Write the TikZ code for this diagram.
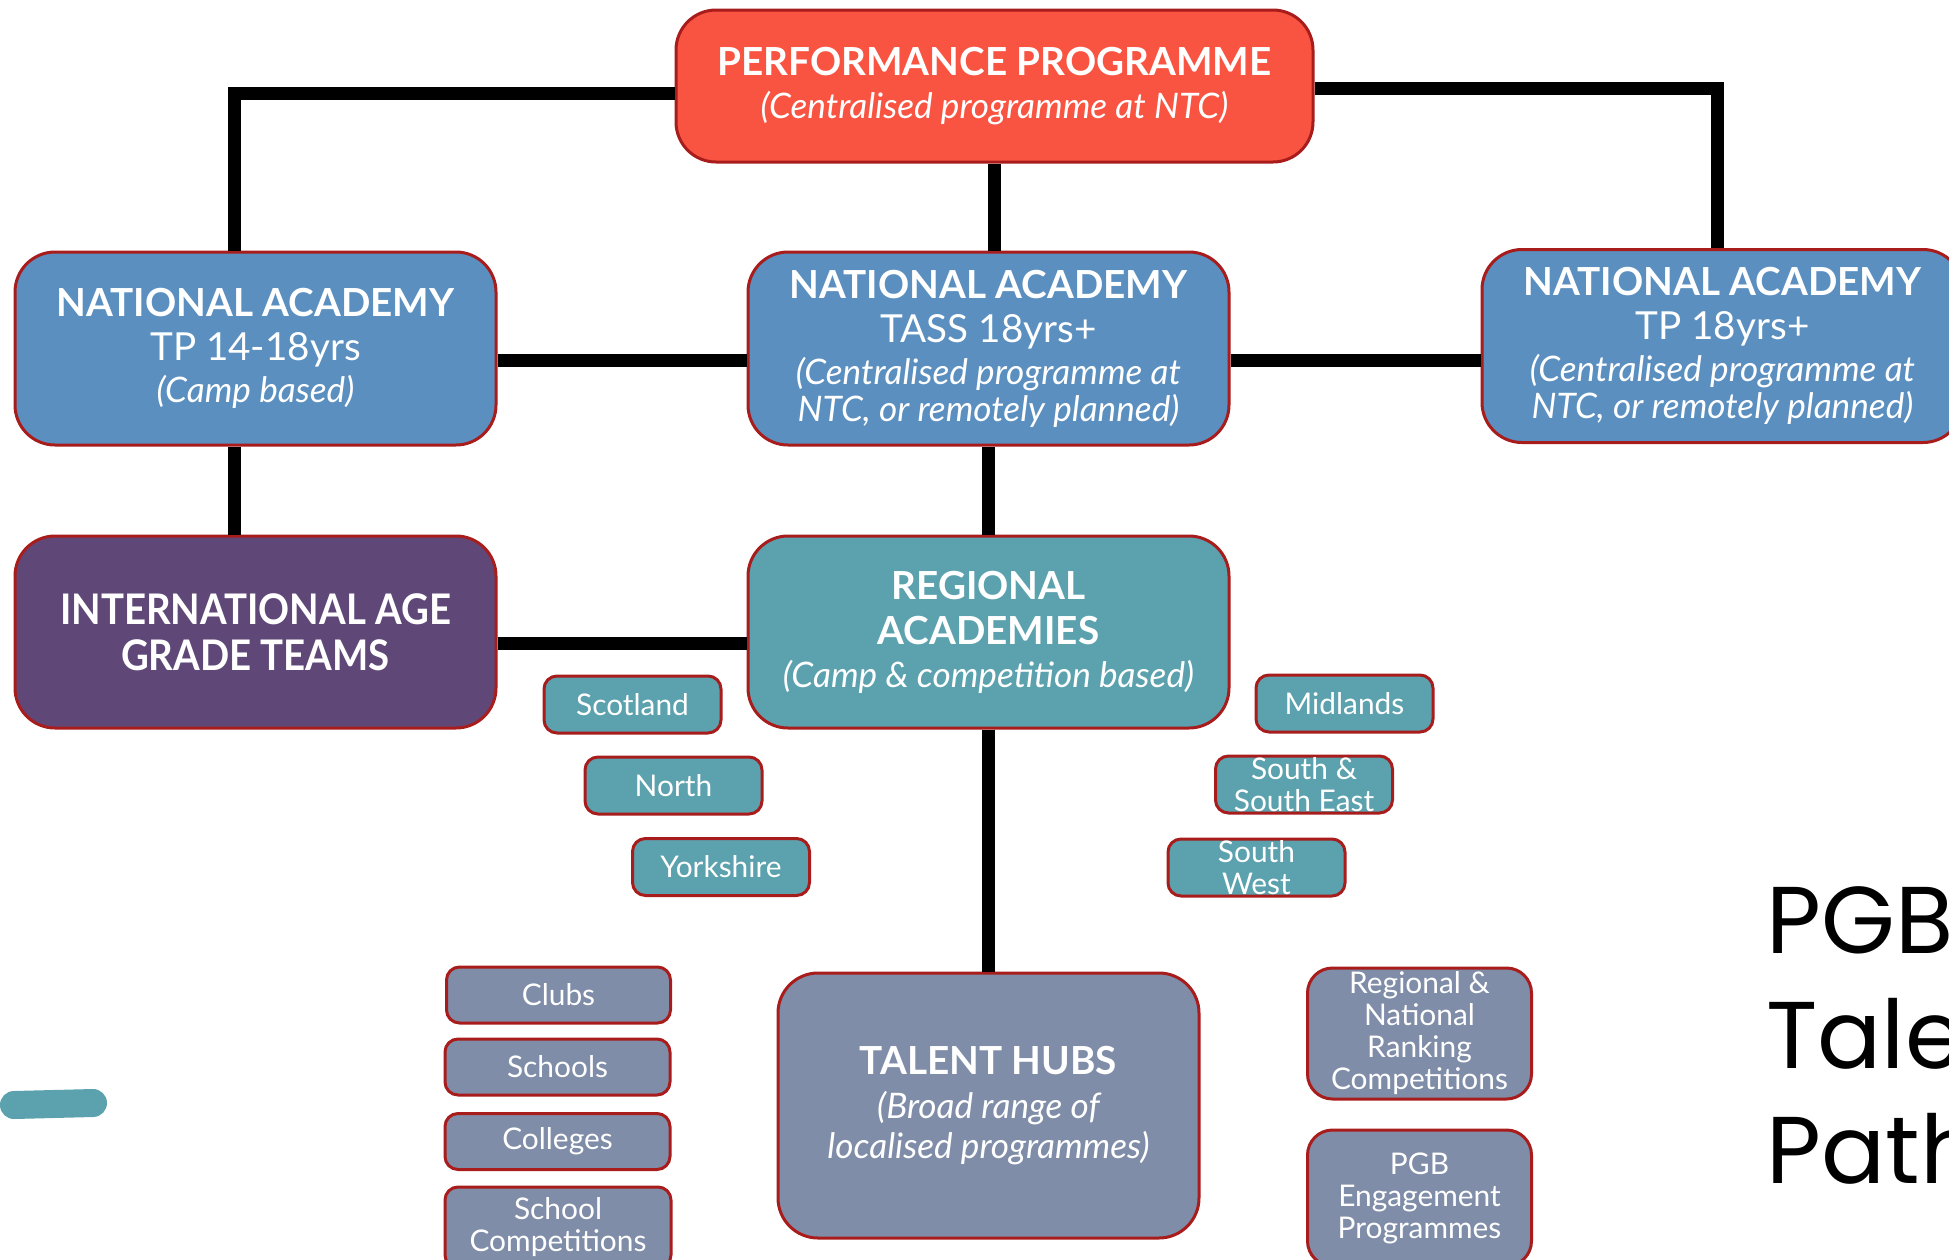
\documentclass[tikz,border=0pt]{standalone}
\usepackage{fontspec}
\setmainfont{Lato}
\newfontfamily\pathfont{Poppins}
\newfontfamily\condfont{Lato}[FakeStretch=0.91]
\usetikzlibrary{calc}
\definecolor{edgered}{HTML}{A81C1C}
\definecolor{perfred}{HTML}{F85441}
\definecolor{nablue}{HTML}{5A8FBF}
\definecolor{agepurple}{HTML}{5F4878}
\definecolor{regteal}{HTML}{5BA2AE}
\definecolor{hubgrey}{HTML}{7F8DA8}
\newcommand{\subtxt}[1]{{\itshape\fontsize{10}{12}\selectfont #1}}
\tikzset{
    box/.style       = {draw=edgered, line width=0.3mm, rounded corners=4mm, text=white, align=center, inner sep=0pt},
    redbox/.style    = {box, fill=perfred, minimum width=63.7mm, minimum height=15.2mm, font=\fontsize{11}{12}\selectfont},
    bluebox/.style   = {box, fill=nablue, minimum width=48.1mm, minimum height=19.3mm, font=\fontsize{11}{13}\selectfont},
    purplebox/.style = {box, fill=agepurple, minimum width=48.1mm, minimum height=19.2mm, font=\condfont\fontsize{12}{13}\selectfont\bfseries},
    tealbox/.style   = {box, fill=regteal, minimum width=48.1mm, minimum height=19.2mm, font=\fontsize{11}{13}\selectfont},
    hubbox/.style    = {box, fill=hubgrey, minimum width=42.1mm, minimum height=26.5mm, font=\fontsize{11}{12.4}\selectfont},
    region/.style    = {box, fill=regteal, rounded corners=1.3mm, minimum width=17.7mm, minimum height=5.7mm, font=\fontsize{8.5}{9}\selectfont},
    feeder/.style    = {box, fill=hubgrey, rounded corners=1.3mm, minimum width=22.4mm, minimum height=5.6mm, font=\fontsize{8.5}{9.1}\selectfont},
    link/.style      = {draw=black, line width=1.3mm},
}

\begin{document}
\begin{tikzpicture}[x=0.1mm, y=-0.1mm]
  \clip (0,0) rectangle (1949,1260);
  % main boxes
  \node [name=perf, redbox] at (994.5,86) {{\bfseries PERFORMANCE PROGRAMME}\\ \subtxt{(Centralised programme at NTC)}};
  \node [name=naL, bluebox] at (255.5,348.5) {{\bfseries NATIONAL ACADEMY}\\[-0.5pt] TP 14-18yrs\\[-1pt] \subtxt{(Camp based)}};
  \node [name=naC, bluebox] at (988.5,348.5) {{\bfseries NATIONAL ACADEMY}\\[-0.5pt] TASS 18yrs+\\[-1pt] \subtxt{(Centralised programme at}\\[-2.5pt] \subtxt{NTC, or remotely planned)}};
  \node [name=naR, bluebox] at (1722.5,346) {{\bfseries NATIONAL ACADEMY}\\[-0.5pt] TP 18yrs+\\[-1pt] \subtxt{(Centralised programme at}\\[-2.5pt] \subtxt{NTC, or remotely planned)}};
  \node [name=intl, purplebox] at (255.5,632) {INTERNATIONAL AGE\\ GRADE TEAMS};
  \node [name=regional, tealbox] at (988.5,632) {{\bfseries REGIONAL}\\ {\bfseries ACADEMIES}\\[-1pt] \subtxt{(Camp \& competition based)}};
  \node [name=talent, hubbox] at (988.5,1105.5) {{\bfseries TALENT HUBS}\\ \subtxt{(Broad range of}\\[-1pt] \subtxt{localised programmes)}};
  % regions
  \node [name=scotland, region] at (632.5,704.5) {Scotland};
  \node [name=north, region] at (673.5,785.5) {North};
  \node [name=yorkshire, region] at (721,867) {Yorkshire};
  \node [name=midlands, region] at (1344.5,703.5) {Midlands};
  \node [name=southeast, region] at (1304,784.5) {South \&\\ South East};
  \node [name=southwest, region] at (1256.5,867.5) {South\\ West};
  % feeders
  \node [name=clubs, feeder] at (558.5,995) {Clubs};
  \node [name=schools, feeder, minimum width=22.5mm] at (557.5,1067) {Schools};
  \node [name=colleges, feeder, minimum width=22.5mm] at (557.5,1141.5) {Colleges};
  \node [name=schoolcomp, feeder, minimum width=22.6mm, minimum height=8.1mm] at (558,1227.5) {School\\ Competitions};
  \node [name=ranking, feeder, minimum height=13.1mm, rounded corners=2.5mm] at (1419.5,1033.5) {Regional \&\\ National\\ Ranking\\ Competitions};
  \node [name=engage, feeder, minimum height=13.6mm, rounded corners=2.5mm] at (1419.5,1198) {PGB\\ Engagement\\ Programmes};
  % title and mark
  \node [name=title, anchor=base west, align=left, font=\pathfont\fontsize{27}{32.6}\selectfont] at (1754,1183) {PGB\\ Talent\\ Pathway};
  \draw [regteal, line width=2.8mm, line cap=round] (14,1105) -- (93,1103);
  % links
  \coordinate (pl) at ([yshift=-0.7mm]perf.west);
  \coordinate (pr) at ([yshift=-0.2mm]perf.east);
  \coordinate (ml) at ([yshift=-1.2mm]naL.east);
  \coordinate (mr) at ([yshift=-1.2mm]naC.east);
  \coordinate (ig) at ([yshift=-1.1mm]intl.east);
  \draw [link] (pl) -| ([xshift=-2.15mm]naL.north);
  \draw [link] (pr) -| ([xshift=-0.55mm]naR.north);
  \draw [link] (perf.south) -- (perf.south |- naC.north);
  \draw [link] (ml) -- (ml -| naC.west);
  \draw [link] (mr) -- (mr -| naR.west);
  \draw [link] (naC.south) -- (regional.north);
  \draw [link] ([xshift=-2.15mm]naL.south) -- ([xshift=-2.15mm]intl.north);
  \draw [link] (ig) -- (ig -| regional.west);
  \draw [link] (regional.south) -- (talent.north);
\end{tikzpicture}
\end{document}
